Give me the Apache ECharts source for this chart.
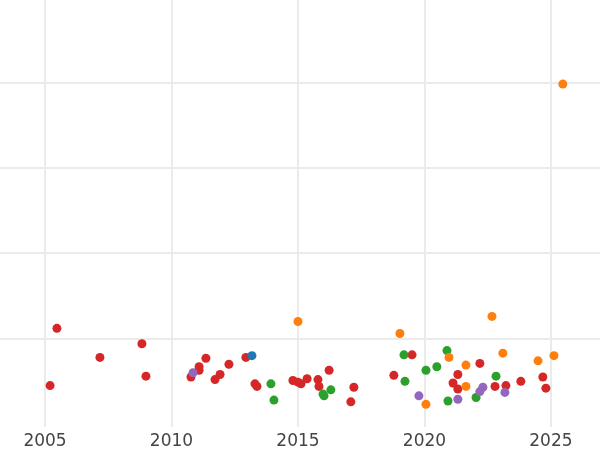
<!DOCTYPE html>
<html>
<head>
<meta charset="utf-8">
<script src="https://cdn.jsdelivr.net/npm/echarts@6/dist/echarts.min.js"></script>
<style>html,body{margin:0;padding:0;background:#fff}#chart{width:600px;height:450px}</style>
</head>
<body>
<div id="chart"></div>
<script>
// Scatter of points per group: [year, value]
const redPoints = [
  [2005.20, 0.45], [2005.47, 1.12], [2007.17, 0.78], [2008.83, 0.94], [2008.99, 0.56],
  [2010.77, 0.55], [2011.09, 0.67], [2011.09, 0.63], [2011.36, 0.77], [2011.72, 0.52],
  [2011.92, 0.58], [2012.27, 0.70], [2012.94, 0.78], [2013.30, 0.47], [2013.38, 0.44],
  [2014.80, 0.51], [2015.00, 0.49], [2015.12, 0.47], [2015.36, 0.53], [2015.79, 0.52],
  [2015.83, 0.44], [2016.23, 0.63], [2017.21, 0.43], [2017.09, 0.26], [2018.79, 0.57],
  [2019.51, 0.81], [2021.32, 0.58], [2021.13, 0.48], [2021.32, 0.41], [2022.19, 0.71],
  [2022.79, 0.44], [2023.22, 0.45], [2023.81, 0.50], [2024.68, 0.55], [2024.80, 0.42]
];
const greenPoints = [
  [2013.93, 0.47], [2014.05, 0.28], [2015.99, 0.35], [2016.03, 0.33], [2016.30, 0.40],
  [2019.19, 0.81], [2019.23, 0.50], [2020.06, 0.63], [2020.49, 0.67], [2020.89, 0.86],
  [2020.93, 0.27], [2022.04, 0.31], [2022.83, 0.56]
];
const purplePoints = [
  [2010.85, 0.60], [2019.78, 0.33], [2021.32, 0.29], [2022.19, 0.38], [2022.31, 0.43],
  [2023.18, 0.37]
];
const orangePoints = [
  [2015.00, 1.20], [2019.03, 1.06], [2025.47, 3.98], [2020.97, 0.78], [2021.64, 0.69],
  [2021.64, 0.44], [2020.06, 0.23], [2022.67, 1.26], [2023.10, 0.83], [2024.49, 0.74],
  [2025.12, 0.80]
];
const bluePoints = [[2013.18, 0.80]];

const xTicks = [2005, 2010, 2015, 2020, 2025];
const yTicks = [1, 2, 3, 4];

const groups = [
  { data: redPoints, color: "#d62728" },
  { data: bluePoints, color: "#1f77b4" },
  { data: greenPoints, color: "#2ca02c" },
  { data: purplePoints, color: "#9467bd" },
  { data: orangePoints, color: "#ff7f0e" },
];

const chart = echarts.init(document.getElementById("chart"));
chart.setOption({
  animation: false,
  grid: { left: 0, right: 0, top: 0, bottom: 23, containLabel: false },
  xAxis: {
    type: "value", min: 2003.22, max: 2026.94,
    axisLine: { show: false },
    axisTick: { show: false, customValues: xTicks },
    axisLabel: {
      customValues: xTicks, formatter: (v) => String(v),
      color: "#444", fontSize: 17, fontFamily: "DejaVu Sans", margin: 6,
    },
    splitLine: { lineStyle: { color: "#ebebeb", width: 2 } },
  },
  yAxis: {
    type: "value", min: -0.035, max: 4.965,
    axisLine: { show: false },
    axisTick: { show: false, customValues: yTicks },
    axisLabel: { show: false, customValues: yTicks },
    splitLine: { lineStyle: { color: "#ebebeb", width: 2 } },
  },
  series: groups.map((g) => ({
    type: "scatter",
    data: g.data,
    symbolSize: 9,
    itemStyle: { color: g.color, opacity: 1 },
  })),
});
</script>
</body>
</html>
